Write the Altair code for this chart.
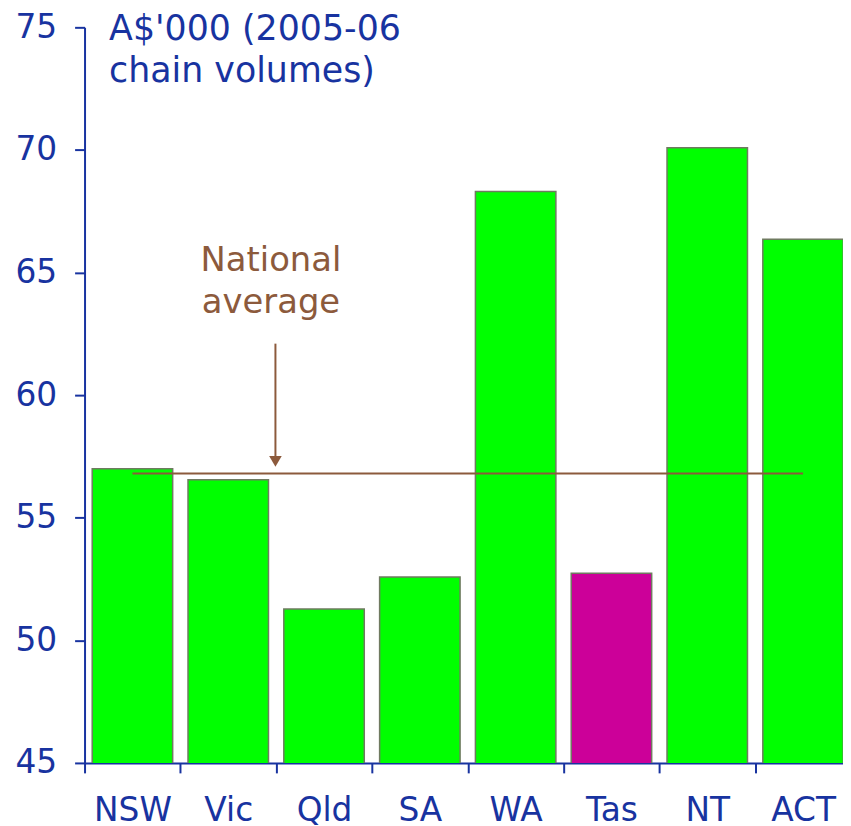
import altair as alt
import pandas as pd

states = ["NSW", "Vic", "Qld", "SA", "WA", "Tas", "NT", "ACT"]
values = [57.0, 56.55, 51.28, 52.58, 68.3, 52.74, 70.09, 66.36]
highlight = ["no", "no", "no", "no", "no", "yes", "no", "no"]
national_avg = 56.8

unit_lines = ["A$'000 (2005-06", "chain volumes)"]
note_lines = ["National", "average"]

BLUE = "#1833a0"
BROWN = "#8c5a3c"
FONT = "DejaVu Sans"

df = pd.DataFrame({"state": states, "value": values, "hl": highlight})
avg_df = pd.DataFrame({"state": states, "avg": [national_avg] * len(states)})

STEP = 771 / 8
xscale = alt.Scale(domain=states, range=[0, 771], paddingInner=0.16, paddingOuter=0.08)
yscale = alt.Scale(domain=[45, 75], nice=False, zero=False)

x_axis = alt.Axis(
    title=None, labelAngle=0, labelFont=FONT, labelFontSize=33, labelColor=BLUE,
    domainColor=BLUE, domainWidth=2, tickColor=BLUE, tickWidth=2, tickSize=10,
    tickOffset=-STEP / 2, labelOffset=STEP / 2, labelPadding=22, grid=False,
)
y_axis = alt.Axis(
    title=None, values=[45, 50, 55, 60, 65, 70, 75], labelFont=FONT, labelFontSize=33,
    labelColor=BLUE, domainColor=BLUE, domainWidth=2, tickColor=BLUE, tickWidth=2,
    tickSize=10, labelPadding=18, grid=False,
)

bars = alt.Chart(df).mark_bar(stroke="#6f7a60", strokeWidth=1.5, clip=True).encode(
    x=alt.X("state:N", scale=xscale, axis=x_axis, sort=states),
    y=alt.Y("value:Q", scale=yscale, axis=y_axis),
    color=alt.Color("hl:N", scale=alt.Scale(domain=["no", "yes"], range=["#00ff00", "#cc0099"]), legend=None),
)

avg_line = alt.Chart(avg_df).mark_line(color=BROWN, strokeWidth=2).encode(
    x=alt.X("state:N", scale=xscale, sort=states),
    y=alt.Y("avg:Q", scale=yscale),
)

unit_df = pd.DataFrame({"state": ["NSW"], "y": [74.47], "t": [unit_lines]})
unit_text = alt.Chart(unit_df).mark_text(
    align="left", baseline="alphabetic", font=FONT, fontSize=35, color=BLUE,
    lineHeight=42, dx=17,
).encode(
    x=alt.X("state:N", scale=xscale, sort=states, bandPosition=0),
    y=alt.Y("y:Q", scale=yscale),
    text="t",
)

note_df = pd.DataFrame({"state": ["Vic"], "y": [65.07], "t": [note_lines]})
note_text = alt.Chart(note_df).mark_text(
    align="center", baseline="alphabetic", font=FONT, fontSize=34, color=BROWN,
    lineHeight=42, dx=2.5,
).encode(
    x=alt.X("state:N", scale=xscale, sort=states, bandPosition=1),
    y=alt.Y("y:Q", scale=yscale),
    text="t",
)

arrow_df = pd.DataFrame({"state": ["Vic"], "y1": [62.1], "y2": [57.5], "tip": [57.3]})
arrow_shaft = alt.Chart(arrow_df).mark_rule(color=BROWN, strokeWidth=2, xOffset=7).encode(
    x=alt.X("state:N", scale=xscale, sort=states, bandPosition=1),
    y=alt.Y("y1:Q", scale=yscale),
    y2="y2:Q",
)
arrow_head = alt.Chart(arrow_df).mark_point(
    shape="triangle-down", filled=True, color=BROWN, size=160, opacity=1, xOffset=7,
).encode(
    x=alt.X("state:N", scale=xscale, sort=states, bandPosition=1),
    y=alt.Y("tip:Q", scale=yscale),
)

chart = alt.layer(bars, avg_line, unit_text, note_text, arrow_shaft, arrow_head).properties(
    width=763, height=740, background="white",
    autosize=alt.AutoSizeParams(type="none"),
    padding={"left": 77, "top": 17, "right": 0, "bottom": 61},
).configure_view(stroke="transparent", strokeWidth=0).configure_axis(grid=False)

chart.save("out.html", embed_options={"renderer": "svg", "actions": False})
